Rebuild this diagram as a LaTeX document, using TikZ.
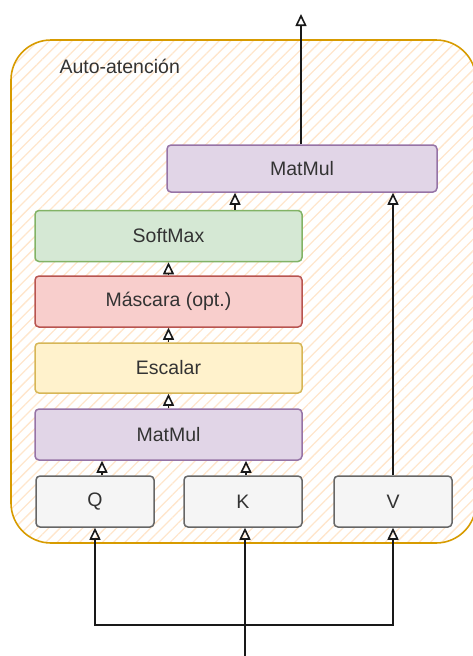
\documentclass[tikz,border=0pt]{standalone}
\usepackage{fontspec}
\setmainfont{Liberation Sans}
\usetikzlibrary{arrows.meta,patterns.meta}
\definecolor{grpline}{HTML}{D79B00}
\definecolor{hatch}{HTML}{FFE6CC}
\definecolor{purpfill}{HTML}{E1D5E7}\definecolor{purpline}{HTML}{9673A6}
\definecolor{greenfill}{HTML}{D5E8D4}\definecolor{greenline}{HTML}{82B366}
\definecolor{redfill}{HTML}{F8CECC}\definecolor{redline}{HTML}{B85450}
\definecolor{yelfill}{HTML}{FFF2CC}\definecolor{yelline}{HTML}{D6B656}
\definecolor{greyfill}{HTML}{F5F5F5}\definecolor{greyline}{HTML}{666666}
\definecolor{txt}{HTML}{333333}
\tikzset{
  blockbox/.style={draw, line width=1.5pt, rounded corners=4pt, inner sep=0pt,
    font=\fontsize{19.5}{23}\selectfont, text=txt},
  purp/.style={blockbox, fill=purpfill, draw=purpline},
  grn/.style={blockbox, fill=greenfill, draw=greenline},
  rd/.style={blockbox, fill=redfill, draw=redline},
  yel/.style={blockbox, fill=yelfill, draw=yelline},
  gry/.style={blockbox, fill=greyfill, draw=greyline},
  flow/.style={draw=black!90, line width=1.5pt, -{Triangle[open,length=12pt,width=11pt,line width=1.6pt]}},
}
\begin{document}
\begin{tikzpicture}[x=1pt,y=-1pt]
\useasboundingbox (0,0) rectangle (473,656);
% group container
\path[pattern={Lines[angle=45,distance=8pt,line width=1.3pt]}, pattern color=hatch,
      rounded corners=40pt] (11,40) rectangle (476,543);
\draw[grpline, line width=1.6pt, rounded corners=40pt] (11,40) rectangle (476,543);
\node[anchor=west, font=\fontsize{19.5}{23}\selectfont, text=txt] (title) at (56,66) {Auto-atención};

% blocks
\node[purp, minimum width=270pt, minimum height=47pt] (mm2) at (302,168.5) {MatMul};
\node[grn, minimum width=267pt, minimum height=51pt] (soft) at (168.5,236) {SoftMax};
\node[rd, minimum width=267pt, minimum height=51pt] (mask) at (168.5,301.5) {Máscara (opt.)};
\node[yel, minimum width=267pt, minimum height=50pt] (scale) at (168.5,368) {Escalar};
\node[purp, minimum width=267pt, minimum height=51pt] (mm1) at (168.5,434.5) {MatMul};
\node[gry, minimum width=118pt, minimum height=51pt] (q) at (95,501.5) {Q};
\node[gry, minimum width=118pt, minimum height=51pt] (k) at (243,501.5) {K};
\node[gry, minimum width=118pt, minimum height=51pt] (v) at (393,501.5) {V};

% free ends
\coordinate (out) at (301,14);
\coordinate (in) at (245,656);
\coordinate (split) at (245,625);

% connectors
\draw[flow] (mm2.north -| out) -- (out);
\draw[flow] (soft.north -| 235,0) -- (mm2.south -| 235,0);
\draw[flow] (mask.north) -- (soft.south);
\draw[flow] (scale.north) -- (mask.south);
\draw[flow] (mm1.north) -- (scale.south);
\draw[flow] (q.north -| 102,0) -- (mm1.south -| 102,0);
\draw[flow] (k.north -| 246,0) -- (mm1.south -| 246,0);
\draw[flow] (v.north) -- (mm2.south -| v.north);
\draw[flow] (in) -- (k.south -| in);
\draw[flow] (split) -| (q.south);
\draw[flow] (split) -| (v.south);
\end{tikzpicture}
\end{document}
